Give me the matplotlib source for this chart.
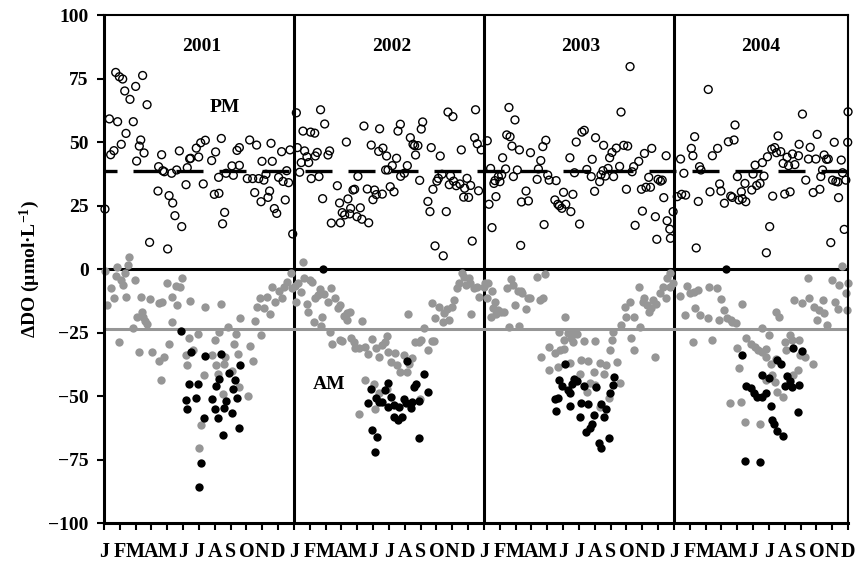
import matplotlib
matplotlib.use("Agg")
import matplotlib.pyplot as plt

# --- fonts ---
plt.rcParams["font.family"] = "Liberation Serif"
plt.rcParams["font.weight"] = "bold"
plt.rcParams["mathtext.fontset"] = "custom"
plt.rcParams["mathtext.rm"] = "Liberation Serif:bold"
plt.rcParams["mathtext.it"] = "Liberation Serif:bold"
plt.rcParams["mathtext.bf"] = "Liberation Serif:bold"

# --- DATA (x = months since Jan 2001, y = delta DO in umol/L) ---
month_letters = ["J", "F", "M", "A", "M", "J", "J", "A", "S", "O", "N", "D"]
years = ["2001", "2002", "2003", "2004"]
year_label_x = [6.2, 18.2, 30.1, 41.5]
pm_mean = 38.7
am_mean = -23.6

# PM (open circles)
pm_2001 = [(0.06, 23.6), (0.34, 59.1), (0.74, 77.4), (0.97, 75.7), (1.18, 74.8), (0.86, 58.0),
           (1.31, 70.1), (1.64, 66.8), (2.0, 71.9), (2.44, 76.2), (2.72, 64.7), (1.85, 58.0),
           (1.39, 53.4), (1.09, 49.1), (0.63, 46.6), (0.42, 45.0), (2.32, 50.8), (2.23, 48.4),
           (2.53, 45.7), (2.06, 42.5), (3.45, 40.3), (3.64, 45.0), (3.71, 38.7), (3.81, 38.3),
           (4.27, 37.7), (4.59, 39.0), (4.76, 46.5), (5.26, 39.9), (5.41, 43.4), (5.47, 43.6),
           (5.83, 47.6), (5.98, 44.1), (6.11, 49.7), (6.4, 50.7), (5.18, 33.2), (6.27, 33.5),
           (3.41, 30.7), (4.11, 28.9), (4.34, 26.0), (4.48, 21.0), (4.91, 16.7), (2.88, 10.5),
           (4.02, 7.9), (6.8, 42.7), (7.05, 46.1), (7.24, 36.1), (7.41, 51.4), (6.97, 29.4),
           (7.26, 29.8), (7.62, 22.3), (7.49, 17.8), (7.71, 37.7), (8.08, 40.6), (8.17, 36.9),
           (8.4, 46.7), (8.55, 47.8), (8.55, 40.8), (9.2, 50.8), (9.64, 48.8), (9.05, 35.6),
           (9.39, 35.6), (9.77, 35.6), (10.1, 35.0), (10.23, 37.3), (9.98, 42.4), (10.55, 49.5),
           (10.63, 42.4), (11.22, 46.2), (11.03, 36.1), (11.31, 34.5), (11.66, 34.0), (11.75, 46.9),
           (9.52, 30.1), (9.92, 26.5), (10.36, 28.2), (10.46, 30.7), (10.76, 23.8), (10.91, 21.9),
           (11.45, 27.2), (11.54, 38.7), (11.92, 13.8)]
pm_2002 = [(12.15, 61.5), (13.68, 62.7), (13.94, 57.1), (12.57, 54.3), (13.05, 53.9), (13.31, 53.5),
           (12.21, 47.8), (12.67, 46.5), (12.82, 44.2), (12.46, 41.9), (12.93, 41.9), (12.36, 38.1),
           (13.47, 45.9), (13.35, 44.5), (14.25, 46.5), (14.15, 44.9), (13.09, 35.6), (13.58, 36.4),
           (13.81, 27.7), (15.31, 50.0), (14.74, 32.8), (14.36, 18.1), (14.88, 26.0), (14.93, 18.2),
           (15.05, 22.2), (15.2, 21.3), (15.41, 27.6), (15.58, 23.9), (15.52, 21.7), (15.73, 31.1),
           (15.83, 31.4), (15.98, 20.6), (16.19, 24.1), (16.29, 19.6), (16.72, 18.2), (16.04, 36.5),
           (16.42, 56.3), (16.63, 31.5), (16.88, 48.8), (16.99, 27.3), (17.09, 31.1), (17.2, 29.3),
           (17.58, 29.5), (17.41, 55.2), (17.35, 46.3), (17.62, 47.6), (17.85, 44.5), (17.79, 39.0),
           (17.94, 39.0), (18.08, 32.4), (18.32, 30.4), (18.21, 40.7), (18.48, 43.6), (18.57, 54.3),
           (18.72, 57.0), (18.74, 36.5), (18.97, 37.7), (19.16, 40.7), (19.35, 51.7), (19.52, 49.1),
           (19.62, 48.6), (19.83, 48.6), (19.68, 44.9), (19.94, 34.9), (20.13, 57.9), (20.04, 55.1),
           (20.67, 47.8), (21.24, 44.5), (20.78, 31.4), (20.46, 26.6), (20.59, 22.6), (21.03, 34.6),
           (21.12, 35.7), (21.35, 37.3), (21.89, 36.7), (21.81, 33.2), (22.08, 34.6), (22.25, 32.8),
           (22.48, 33.5), (22.93, 35.7), (22.78, 31.8), (22.72, 28.3), (23.03, 28.2), (23.16, 32.9),
           (22.57, 46.9), (21.62, 22.6), (21.73, 61.8), (22.04, 60.0), (20.91, 9.1), (21.43, 5.2),
           (23.26, 11.0), (23.47, 62.7), (23.41, 51.7), (23.58, 49.3), (23.83, 46.9), (23.66, 30.8)]
pm_2003 = [(24.21, 50.5), (24.42, 39.6), (24.32, 25.5), (24.51, 16.3), (24.76, 28.5), (24.63, 33.7),
           (24.7, 34.8), (24.91, 36.4), (25.01, 34.4), (25.12, 37.0), (25.18, 43.8), (25.37, 39.4),
           (25.44, 52.8), (25.65, 52.1), (25.58, 63.6), (25.77, 48.4), (25.96, 58.7), (25.86, 36.4),
           (26.11, 39.0), (26.24, 46.9), (26.32, 9.3), (26.37, 26.4), (26.66, 30.7), (26.81, 26.8),
           (26.94, 45.8), (27.36, 35.3), (27.44, 39.4), (27.59, 42.7), (27.72, 48.2), (27.91, 50.7),
           (27.8, 17.5), (28.03, 37.0), (28.12, 35.0), (28.56, 34.8), (28.48, 27.2), (28.67, 25.5),
           (28.77, 24.9), (28.92, 23.9), (29.03, 30.2), (29.17, 25.5), (29.43, 43.8), (29.49, 22.6),
           (29.62, 29.4), (29.72, 37.9), (29.83, 50.0), (30.04, 17.7), (30.19, 53.9), (30.34, 54.6),
           (30.5, 39.2), (30.78, 36.4), (30.84, 43.2), (30.99, 30.6), (31.05, 51.7), (31.31, 34.4),
           (31.39, 37.1), (31.52, 38.7), (31.56, 48.7), (31.67, 36.6), (31.84, 39.6), (31.94, 43.8),
           (32.09, 45.9), (32.19, 36.4), (32.36, 47.6), (32.57, 40.4), (32.66, 61.8), (32.83, 48.7),
           (33.08, 48.4), (33.0, 31.4), (33.23, 79.7), (33.36, 38.3), (33.46, 40.3), (33.55, 17.2),
           (33.78, 42.4), (34.01, 22.8), (34.14, 45.5), (33.95, 31.4), (34.24, 32.2), (34.41, 36.1),
           (34.52, 32.2), (34.6, 47.5), (34.83, 20.6), (34.92, 11.7), (35.0, 35.3), (35.15, 34.6),
           (35.26, 35.0), (35.36, 28.1), (35.51, 44.6), (35.57, 19.0), (35.74, 15.7), (35.78, 12.1),
           (35.95, 22.6)]
pm_2004 = [(36.42, 43.3), (36.63, 37.7), (36.21, 28.5), (36.49, 29.4), (36.74, 29.1), (37.1, 47.5),
           (37.2, 44.6), (37.31, 52.1), (37.54, 26.6), (37.41, 8.3), (37.62, 40.3), (37.71, 39.0),
           (38.17, 70.7), (38.28, 30.4), (38.43, 44.6), (38.76, 47.5), (38.89, 33.5), (38.97, 30.7),
           (39.19, 25.9), (39.44, 50.1), (39.59, 28.7), (39.69, 28.2), (39.8, 50.8), (39.86, 56.7),
           (40.01, 36.4), (40.11, 27.2), (40.26, 30.4), (40.32, 27.7), (40.54, 26.5), (40.49, 33.7),
           (40.92, 31.1), (41.0, 37.4), (41.13, 40.9), (41.23, 32.9), (41.44, 33.7), (41.59, 41.9),
           (41.69, 36.6), (41.91, 44.2), (42.05, 16.7), (41.84, 6.4), (42.18, 47.2), (42.24, 28.7),
           (42.37, 47.8), (42.48, 45.8), (42.58, 52.4), (42.75, 46.2), (42.9, 41.6), (43.0, 29.5),
           (43.15, 44.0), (43.24, 40.7), (43.34, 30.4), (43.49, 45.3), (43.64, 41.1), (43.87, 44.6),
           (43.91, 49.1), (44.12, 61.0), (44.33, 35.0), (44.5, 43.3), (44.61, 47.9), (44.8, 30.1),
           (44.97, 43.3), (45.05, 53.0), (45.22, 31.4), (45.28, 36.4), (45.39, 39.0), (45.49, 44.9),
           (45.64, 43.2), (45.75, 43.3), (45.91, 10.4), (46.13, 49.9), (46.02, 35.0), (46.23, 34.5),
           (46.36, 34.3), (46.4, 28.1), (46.57, 42.9), (46.65, 37.9), (46.76, 15.6), (46.86, 35.0),
           (46.98, 49.9), (47.0, 61.9)]

# AM, grey filled circles
am_grey = [(0.06, -0.7), (0.21, -14.2), (0.42, -7.3), (0.63, -11.3), (0.76, -2.6), (0.84, 0.9),
           (1.05, -4.3), (1.18, -6.3), (1.33, -1.7), (1.54, 1.6), (1.6, 4.9), (1.39, -10.9),
           (1.96, -4.3), (1.86, -23.1), (0.95, -28.9), (2.07, -18.8), (2.32, -10.9), (2.38, -17.1),
           (2.59, -20.5), (2.74, -21.7), (2.45, -18.8), (2.91, -11.9), (3.5, -13.5), (3.65, -12.9),
           (3.97, -5.6), (4.28, -10.9), (4.56, -6.6), (4.81, -7.0), (4.92, -3.4), (4.6, -14.2),
           (4.28, -20.7), (5.44, -12.5), (6.35, -14.8), (7.38, -13.8), (2.24, -32.8), (3.02, -32.5),
           (3.5, -36.2), (3.8, -34.5), (3.59, -43.7), (4.11, -29.7), (5.38, -27.0), (5.93, -25.7),
           (5.65, -31.9), (5.19, -33.9), (5.27, -37.8), (6.29, -41.7), (6.81, -33.9), (7.03, -28.0),
           (7.07, -37.8), (7.28, -24.9), (7.59, -37.5), (7.66, -34.5), (7.85, -23.0), (8.31, -25.7),
           (8.19, -29.7), (8.44, -33.6), (8.08, -40.2), (7.17, -41.5), (7.51, -49.3), (8.57, -19.2),
           (8.5, -46.3), (9.2, -30.2), (9.41, -36.2), (9.09, -49.9), (9.51, -20.5), (9.92, -26.0),
           (6.12, -61.4), (6.03, -70.6), (9.66, -14.8), (9.83, -11.5), (10.08, -15.5), (10.3, -10.9),
           (10.61, -7.0), (10.51, -17.8), (10.82, -12.9), (11.03, -8.7), (11.24, -11.5), (11.35, -7.0),
           (11.56, -5.0), (11.81, -1.7), (11.88, -7.6), (12.05, -6.6),
           (12.59, 2.9), (12.24, -5.6), (12.11, -12.9), (12.45, -9.2), (12.66, -3.7), (12.81, -13.9),
           (12.87, -16.8), (13.02, -4.3), (13.16, -5.2), (13.33, -11.3), (13.29, -20.7), (13.5, -10.2),
           (13.65, -7.9), (13.8, -18.8), (13.71, -22.3), (13.92, -10.0), (14.14, -12.9), (14.28, -24.9),
           (14.35, -7.6), (14.62, -11.5), (14.77, -15.5), (14.92, -14.2), (15.19, -18.5), (15.34, -20.1),
           (15.36, -17.5), (15.55, -16.8), (16.29, -20.5), (14.39, -29.7), (14.92, -28.0), (15.06, -28.3),
           (15.61, -27.3), (15.8, -28.9), (15.86, -31.0), (16.12, -31.0), (16.46, -30.6), (16.67, -33.6),
           (16.92, -27.7), (17.17, -31.0), (17.34, -34.5), (17.55, -29.9), (17.76, -28.9), (17.86, -26.4),
           (17.97, -32.5), (18.14, -36.5), (18.4, -33.2), (18.5, -37.8), (18.71, -40.4), (18.92, -33.9),
           (19.14, -40.4), (19.28, -37.5), (19.45, -35.2), (19.2, -17.8), (19.66, -28.6), (19.87, -28.9),
           (20.04, -28.0), (20.19, -23.1), (20.46, -31.9), (20.72, -28.3), (20.86, -28.2), (16.46, -43.7),
           (17.03, -45.4), (17.38, -48.9), (17.86, -47.2), (17.09, -55.1), (16.08, -57.2), (19.94, -51.2),
           (20.72, -13.5), (20.93, -19.4), (21.18, -14.8), (21.39, -20.7), (21.48, -17.5), (21.67, -15.7),
           (21.81, -20.1), (21.98, -14.8), (22.09, -12.2), (22.3, -7.6), (22.45, -5.6), (22.62, -1.7),
           (22.72, -3.0), (22.87, -6.3), (23.04, -3.7), (23.14, -5.6), (23.21, -17.8), (23.4, -7.6),
           (23.57, -7.0), (23.71, -10.9), (23.99, -7.0),
           (24.06, -5.6), (24.27, -5.6), (24.21, -11.3), (24.49, -8.7), (24.7, -12.9), (24.59, -15.5),
           (24.42, -18.8), (24.76, -17.8), (24.91, -16.1), (25.06, -16.8), (25.27, -16.8), (25.44, -7.6),
           (25.69, -3.9), (25.82, -6.3), (25.61, -22.7), (25.96, -14.2), (26.18, -8.7), (26.32, -8.7),
           (26.39, -9.6), (26.66, -15.7), (26.81, -11.3), (26.91, -11.3), (27.38, -3.0), (27.51, -12.2),
           (27.86, -2.1), (27.76, -11.5), (26.24, -22.4), (29.13, -18.8), (28.77, -24.7), (29.03, -28.0),
           (29.34, -25.3), (29.49, -27.3), (29.72, -24.9), (29.87, -25.7), (29.62, -28.6), (30.29, -28.2),
           (31.03, -28.2), (27.59, -34.5), (28.14, -30.6), (28.5, -33.2), (28.82, -31.9), (29.03, -31.5),
           (28.08, -39.8), (28.65, -38.5), (29.45, -37.1), (30.12, -35.8), (30.55, -36.2), (30.97, -40.7),
           (30.04, -41.5), (30.72, -45.0), (30.5, -48.3), (31.31, -37.1), (31.73, -37.8), (31.6, -41.5),
           (32.09, -28.0), (32.15, -24.7), (31.98, -31.9), (32.41, -36.7), (32.62, -45.0), (31.88, -50.9),
           (31.31, -54.2), (31.03, -45.7), (33.5, -31.9), (33.29, -27.0), (33.88, -22.7), (34.83, -34.5),
           (32.66, -22.0), (33.0, -18.8), (32.93, -14.8), (33.25, -12.9), (33.46, -18.8), (33.78, -7.2),
           (34.05, -13.1), (34.14, -11.5), (34.31, -14.2), (34.41, -16.8), (34.56, -15.5), (34.69, -12.2),
           (34.9, -13.9), (35.15, -9.6), (35.32, -7.2), (35.47, -11.3), (35.57, -3.7), (35.74, -7.0),
           (35.78, -1.7), (35.95, -5.6),
           (36.36, -10.6), (36.84, -6.7), (36.7, -18.1), (36.99, -9.6), (37.33, -15.5), (37.27, -8.9),
           (37.54, -8.3), (37.62, -18.1), (38.22, -7.2), (38.17, -19.4), (37.2, -28.6), (38.43, -28.0),
           (38.74, -7.6), (38.95, -11.9), (38.85, -20.1), (39.16, -16.1), (39.38, -19.4), (39.59, -20.1),
           (39.69, -20.7), (39.9, -21.4), (40.32, -13.8), (41.59, -23.4), (42.01, -26.0), (42.43, -16.8),
           (42.64, -18.8), (43.32, -26.0), (43.03, -28.6), (43.49, -28.0), (43.91, -28.0), (44.5, -3.7),
           (43.59, -12.2), (44.12, -13.5), (44.54, -11.5), (44.86, -14.8), (45.01, -20.1), (45.18, -16.1),
           (45.39, -12.2), (45.49, -17.5), (45.7, -22.0), (45.98, -4.3), (46.19, -12.9), (46.36, -15.9),
           (46.44, -6.3), (46.61, 1.2), (46.86, -9.6), (47.0, -5.6), (46.91, -16.1), (39.97, -31.2),
           (40.54, -27.3), (40.85, -29.5), (41.13, -30.8), (41.34, -31.9), (41.59, -32.5), (41.8, -31.6),
           (41.84, -34.5), (40.11, -39.1), (42.12, -37.4), (42.43, -35.6), (42.18, -41.7), (42.37, -44.4),
           (42.54, -48.3), (42.9, -50.3), (43.07, -31.9), (43.95, -33.9), (44.29, -34.5), (44.8, -37.5),
           (43.87, -39.8), (39.54, -52.9), (40.22, -52.2), (40.49, -60.1), (41.42, -61.0), (41.8, -43.7),
           (43.53, -41.7)]

# AM, black filled circles
am_black = [(4.89, -24.4), (5.49, -32.5), (6.35, -34.3), (7.38, -33.5), (8.61, -37.8), (5.38, -45.3),
            (5.93, -45.3), (7.87, -41.1), (7.05, -45.9), (7.28, -43.4), (8.29, -43.8), (8.14, -47.2),
            (5.17, -51.6), (5.82, -50.7), (6.84, -51.3), (7.68, -52.0), (8.4, -50.9), (5.23, -55.1),
            (7.0, -55.1), (7.59, -54.6), (8.08, -56.8), (6.29, -58.5), (7.19, -58.5), (8.52, -62.5),
            (7.51, -65.4), (6.1, -76.3), (6.03, -85.7),
            (13.86, 0.0), (19.14, -36.2), (20.19, -41.3), (17.93, -45.0), (19.7, -45.4), (19.56, -46.3),
            (20.46, -48.6), (16.88, -47.4), (17.76, -47.6), (18.14, -50.3), (17.17, -50.9), (17.38, -52.2),
            (16.67, -52.6), (17.59, -52.2), (17.97, -54.2), (18.35, -53.5), (18.61, -54.2), (18.92, -51.2),
            (19.07, -52.9), (19.45, -52.2), (19.41, -54.6), (19.87, -52.0), (18.35, -58.1), (18.56, -59.4),
            (18.82, -58.1), (16.92, -63.4), (17.24, -66.0), (19.92, -66.4), (17.13, -72.2),
            (29.13, -37.5), (28.77, -43.7), (28.92, -45.9), (29.34, -47.6), (29.55, -45.4), (29.7, -43.4),
            (29.87, -44.2), (29.45, -48.9), (28.5, -51.2), (28.65, -50.7), (28.56, -55.9), (29.45, -53.8),
            (30.04, -58.1), (30.15, -52.6), (30.55, -53.3), (30.34, -45.9), (31.07, -46.3), (30.97, -57.5),
            (30.82, -61.2), (30.67, -62.7), (30.46, -64.3), (31.39, -53.3), (31.6, -58.1), (31.73, -55.1),
            (31.98, -48.9), (32.15, -45.7), (32.19, -42.4), (31.88, -66.4), (31.24, -68.6), (31.39, -70.3),
            (39.31, 0.0), (40.32, -33.9), (42.54, -35.8), (42.75, -37.4), (43.53, -31.2), (44.08, -32.2),
            (41.59, -41.7), (42.01, -43.0), (43.17, -42.1), (43.34, -44.0), (40.54, -46.1), (40.85, -47.0),
            (41.06, -48.7), (41.27, -50.3), (41.55, -50.3), (41.84, -49.0), (43.03, -46.1), (43.45, -46.6),
            (43.91, -45.7), (42.12, -53.9), (42.18, -59.4), (42.33, -61.0), (42.54, -63.6), (42.9, -65.6),
            (43.85, -56.2), (40.49, -75.5), (41.42, -76.0)]

GREY = "#969696"

fig = plt.figure(figsize=(8.56, 5.69), dpi=100)
ax = fig.add_axes([0.1215, 0.0808, 0.8692, 0.8928])

# reference lines
for i in range(1, len(years)):
    ax.axvline(12 * i, color="black", lw=2.2, zorder=1)
ax.axhline(0, color="black", lw=2.2, zorder=1)
ax.axhline(pm_mean, color="black", lw=2.4, linestyle=(4.2, (8.1, 4.8)), zorder=1)
ax.axhline(am_mean, color=GREY, lw=2.2, zorder=1)

# points
pm = pm_2001 + pm_2002 + pm_2003 + pm_2004
ax.scatter([p[0] for p in pm], [p[1] for p in pm], s=32, facecolors="none",
           edgecolors="black", linewidths=1.0, zorder=3, clip_on=False)
ax.scatter([p[0] for p in am_grey], [p[1] for p in am_grey], s=36, color=GREY,
           linewidths=0, zorder=2, clip_on=False)
ax.scatter([p[0] for p in am_black], [p[1] for p in am_black], s=36, color="black",
           linewidths=0, zorder=3, clip_on=False)

# labels
for x, yr in zip(year_label_x, years):
    ax.text(x, 87.5, yr, ha="center", va="center", fontsize=14, fontweight="bold")
ax.text(7.66, 63.4, "PM", ha="center", va="center", fontsize=14, fontweight="bold")
ax.text(14.2, -45.4, "AM", ha="center", va="center", fontsize=14, fontweight="bold")

ax.set_xlim(0, 47)
ax.set_ylim(-100, 100)
ax.set_yticks(range(-100, 101, 25))
ax.set_xticks(range(48))
ax.set_xticklabels((month_letters * 4)[:48])
ax.tick_params(axis="both", direction="out", length=5, width=1.5)
ax.tick_params(axis="x", pad=9, labelsize=14.5)
ax.tick_params(axis="y", pad=6, labelsize=14)

ax.set_ylabel("ΔDO (µmol·L$^{-1}$)", fontsize=14, fontweight="bold")
ax.yaxis.set_label_coords(-0.083, 0.5)

for side in ["left", "bottom"]:
    ax.spines[side].set_linewidth(2.2)
for side in ["top", "right"]:
    ax.spines[side].set_linewidth(1.5)

fig.savefig("out.png", dpi=100)
